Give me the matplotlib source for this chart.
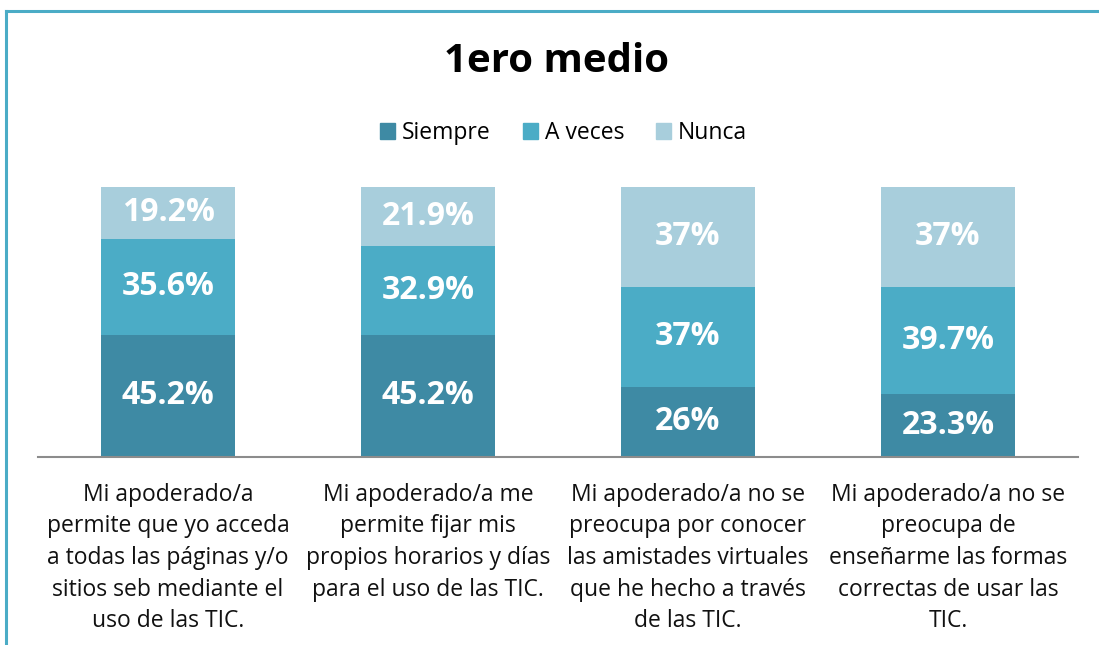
import matplotlib.pyplot as plt
from matplotlib.lines import Line2D
import numpy as np

plt.rcParams['font.family'] = ['Open Sans', 'DejaVu Sans']

categories = [
    'Mi apoderado/a\npermite que yo acceda\na todas las páginas y/o\nsitios seb mediante el\nuso de las TIC.',
    'Mi apoderado/a me\npermite fijar mis\npropios horarios y días\npara el uso de las TIC.',
    'Mi apoderado/a no se\npreocupa por conocer\nlas amistades virtuales\nque he hecho a través\nde las TIC.',
    'Mi apoderado/a no se\npreocupa de\nenseñarme las formas\ncorrectas de usar las\nTIC.',
]
siempre = [45.2, 45.2, 26, 23.3]
a_veces = [35.6, 32.9, 37, 39.7]
nunca = [19.2, 21.9, 37, 37]
series_names = ['Siempre', 'A veces', 'Nunca']
colors = ['#3E8AA4', '#4BACC6', '#A8CEDC']

fig = plt.figure(figsize=(10.99, 6.45), dpi=100)
ax = fig.add_axes([38 / 1099, 1 - 457 / 645, 1040 / 1099, 270 / 645])

x = np.arange(len(categories))
bottom = np.zeros(len(categories))
for name, vals, c in zip(series_names, [siempre, a_veces, nunca], colors):
    vals = np.array(vals)
    ax.bar(x, vals, width=0.515, bottom=bottom, color=c, label=name)
    for xi, b, v in zip(x, bottom, vals):
        ax.text(xi, b + v / 2, '{:g}%'.format(v), ha='center', va='center',
                color='white', fontsize=23, fontweight='bold')
    bottom += vals

ax.set_xlim(-0.5, 3.5)
ax.set_ylim(0, 100)
ax.set_yticks([])
ax.set_xticks([])
for s in ['top', 'right', 'left']:
    ax.spines[s].set_visible(False)
ax.spines['bottom'].set_color('#8C8C8C')
ax.spines['bottom'].set_linewidth(1.5)

for xi, lab in zip(x, categories):
    ax.text(xi, -9.6, lab, ha='center', va='top', fontsize=16.5,
            color='#111111', linespacing=1.42,
            transform=ax.transData, clip_on=False)

fig.text(0.506, 1 - 62 / 645, '1ero medio', ha='center', va='center',
         fontsize=29, fontweight='bold')

handles = [plt.Rectangle((0, 0), 1, 1, color=c) for c in colors]
fig.legend(handles, series_names, loc='center', ncol=3,
           bbox_to_anchor=(0.513, 1 - 133 / 645), frameon=False,
           fontsize=16.5, handlelength=0.65, handleheight=0.65,
           handletextpad=0.3, columnspacing=1.4)

# outer frame (top and left)
fig.add_artist(Line2D([6 / 1099, 6 / 1099], [0, 1 - 11 / 645],
                      color='#4BACC6', lw=2.2, transform=fig.transFigure))
fig.add_artist(Line2D([6 / 1099, 1], [1 - 11 / 645, 1 - 11 / 645],
                      color='#4BACC6', lw=2.2, transform=fig.transFigure))

plt.savefig('out.png')
